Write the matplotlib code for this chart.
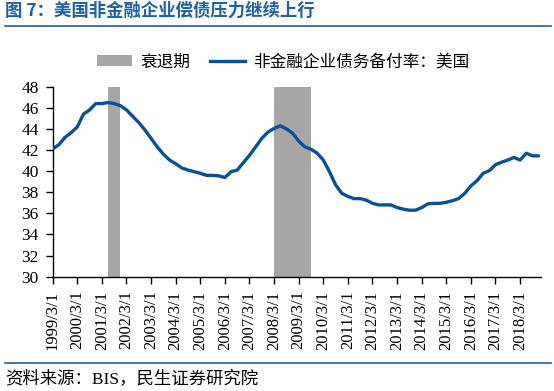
import matplotlib
matplotlib.use("Agg")
import matplotlib.pyplot as plt
import numpy as np
from matplotlib.patches import Patch
from matplotlib.lines import Line2D

plt.rcParams['font.family'] = ['Noto Sans CJK SC', 'DejaVu Sans']

# Quarterly data 1999Q1 - 2018Q4
values = [42.1, 42.5, 43.2, 43.65, 44.2, 45.4, 45.8, 46.4,
          46.4, 46.5, 46.4, 46.2, 45.8, 45.2, 44.6, 43.9,
          43.1, 42.3, 41.6, 41.05, 40.7, 40.3, 40.1, 39.95,
          39.8, 39.6, 39.6, 39.55, 39.4, 39.95, 40.1, 40.8,
          41.5, 42.3, 43.1, 43.7, 44.05, 44.3, 44.0, 43.6,
          42.85, 42.3, 42.07, 41.7, 41.05, 39.95, 38.7, 37.9,
          37.6, 37.4, 37.4, 37.25, 36.95, 36.8, 36.8, 36.8,
          36.55, 36.4, 36.3, 36.3, 36.55, 36.9, 36.95, 36.95,
          37.05, 37.2, 37.4, 37.9, 38.6, 39.1, 39.8, 40.05,
          40.6, 40.85, 41.05, 41.3, 41.05, 41.7, 41.45, 41.45]
years = list(range(1999, 2019))
tick_labels = [f"{y}/3/1" for y in years]
recessions = [(9, 11), (36, 42)]  # quarter index spans

title = "图 7：美国非金融企业偿债压力继续上行"
series_name = "非金融企业债务备付率：美国"
recession_name = "衰退期"
source = "资料来源：BIS，民生证券研究院"

line_color = "#0a4f9c"
gray = "#a6a6a6"
title_color = "#1f5fa8"

fig = plt.figure(figsize=(5.54, 3.91), dpi=100)
ax = fig.add_axes([52.7/554, 1-276.7/391, (541-52.7)/554, (276.7-86.7)/391])

x = np.arange(len(values))
for a, b in recessions:
    ax.axvspan(a, b, color=gray, lw=0, zorder=1)
ax.plot(x, values, color=line_color, lw=2.4, zorder=3, solid_capstyle='round')

ax.set_xlim(0, 79.4)
ax.set_ylim(30, 48)
ax.set_yticks(np.arange(30, 49, 2))
ax.set_yticklabels([str(v) for v in range(30, 49, 2)], fontfamily='Liberation Serif', fontsize=12.5)
ax.set_xticks(np.arange(0, 80, 4))
ax.set_xticklabels(tick_labels, rotation=90, fontfamily='Liberation Serif', fontsize=12)
ax.tick_params(axis='both', direction='out', length=5, width=1, colors='black')
ax.tick_params(axis='x', pad=5)
ax.tick_params(axis='y', pad=5)
for s in ['top', 'right']:
    ax.spines[s].set_visible(False)
for s in ['left', 'bottom']:
    ax.spines[s].set_linewidth(1)
    ax.spines[s].set_color('black')

# Title and rules
fig.text(5/554, 1-11/391, title, fontsize=12.5, fontweight='bold', color=title_color,
         va='center', ha='left')
fig.add_artist(Line2D([5/554, 551/554], [1-25.5/391, 1-25.5/391], color=title_color, lw=1.2))
fig.add_artist(Line2D([5/554, 551/554], [1-363/391, 1-363/391], color=title_color, lw=1.2))
fig.text(5/554, 1-379/391, source, fontsize=12.5, va='center', ha='left',
         family=['Liberation Serif', 'Noto Sans CJK SC'])

handles = [Patch(facecolor=gray, edgecolor='none'),
           Line2D([0], [0], color=line_color, lw=2.4)]
fig.legend(handles, [recession_name, series_name], loc='center',
           bbox_to_anchor=(283/554, 1-62/391), ncol=2, frameon=False,
           fontsize=12, handlelength=2.1, handleheight=0.6, columnspacing=1.2,
           handletextpad=0.5)

fig.savefig("out.png", dpi=100)
